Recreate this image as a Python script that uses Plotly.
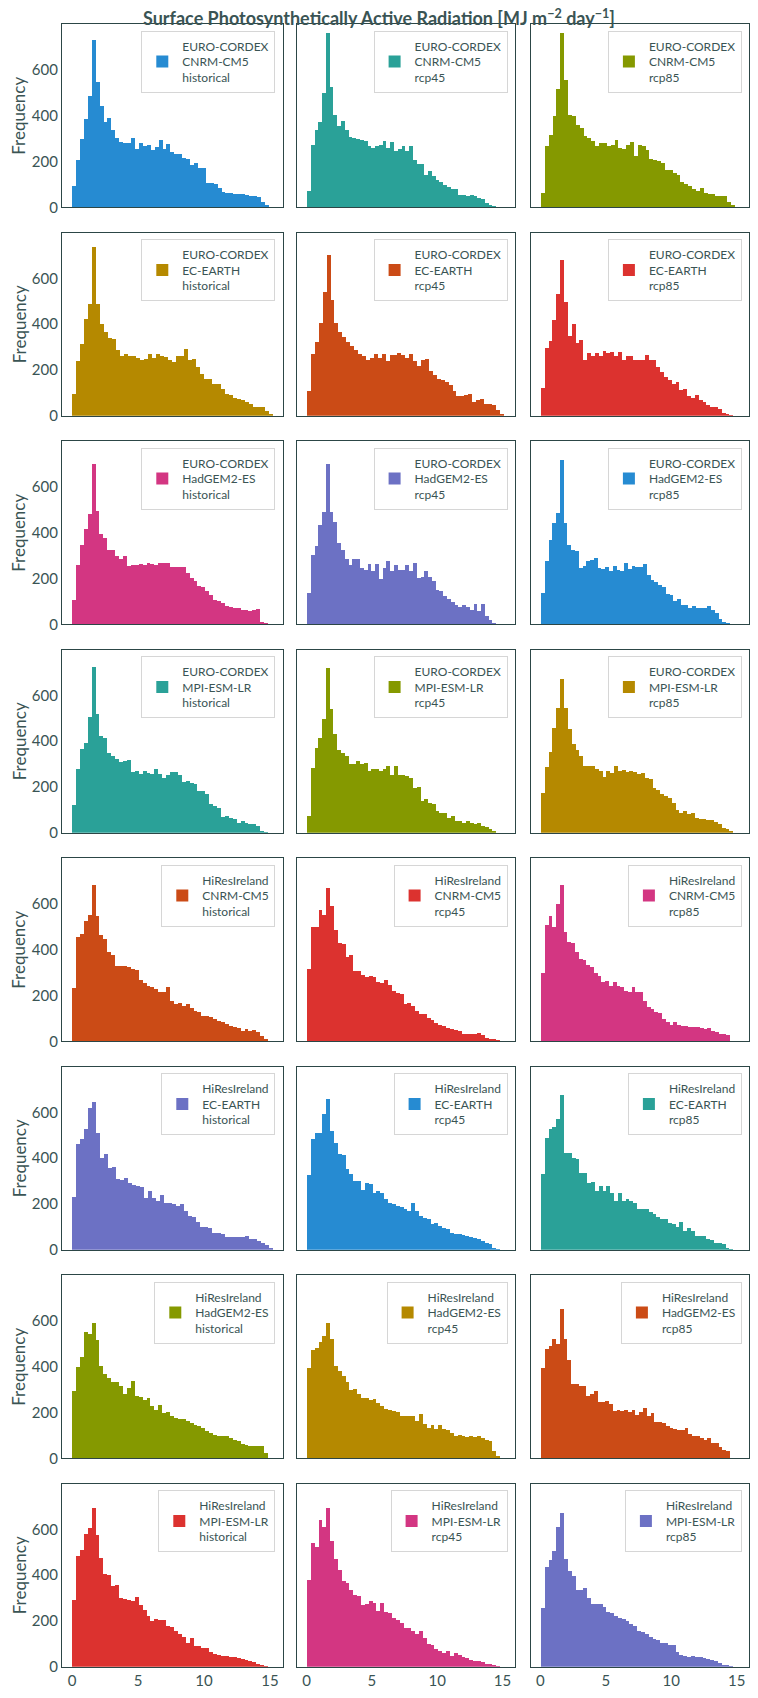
import plotly.graph_objects as go

# ---------------- data ----------------
SOURCES = ["EURO-CORDEX", "HiResIreland"]
MODELS = ["CNRM-CM5", "EC-EARTH", "HadGEM2-ES", "MPI-ESM-LR"]
EXPERIMENTS = ["historical", "rcp45", "rcp85"]
PALETTE = ["#268bd2", "#2aa198", "#859900", "#b58900",
           "#cb4b16", "#dc322f", "#d33682", "#6c71c4"]
X_TICKS = [0, 5, 10, 15]
Y_TICKS = [0, 200, 400, 600]
N_BINS = 50

# upper edge of the data range of each panel (histogram runs from 0 to this value)
XMAX = [14.9, 14.5, 14.8, 15.2, 15.07, 14.7, 14.85, 14.5, 14.45, 14.85, 14.5, 14.7,
        14.85, 14.8, 14.45, 15.2, 14.8, 14.7, 14.85, 14.8, 14.45, 14.85, 14.8, 14.7]

# bin counts (50 bins per panel), row by row
ec_cnrm_hist = [90,205,295,385,485,730,545,440,370,390,335,300,285,280,280,300,255,280,268,272,
                250,262,292,255,275,240,232,232,215,210,185,190,172,172,105,105,100,85,65,62,
                60,57,55,55,52,50,48,44,20,6]
ec_cnrm_45 = [68,272,338,370,498,760,524,403,352,374,335,306,300,297,294,287,265,259,265,271,
              287,258,282,243,255,265,243,265,207,189,189,141,156,134,116,108,98,87,79,79,
              54,52,50,52,47,39,35,17,8,3]
ec_cnrm_85 = [61,268,316,396,515,761,556,403,396,360,345,312,301,290,265,280,280,265,270,294,
              258,253,272,282,221,272,265,250,210,207,200,192,163,160,148,141,108,100,93,80,
              68,83,60,58,57,50,47,47,20,8]
ec_ece_hist = [98,239,313,425,488,737,488,403,367,341,338,290,262,272,262,262,253,243,247,272,
               253,272,262,258,243,236,262,262,291,243,247,214,185,160,160,141,141,119,98,90,
               79,73,68,61,54,41,41,39,20,6]
ec_ece_45 = [110,272,323,408,541,701,505,406,367,345,323,306,287,272,262,243,253,272,253,272,
             239,268,265,275,268,253,272,239,219,243,247,195,180,160,156,148,134,108,86,87,
             93,98,61,68,73,54,54,47,25,8]
ec_ece_85 = [124,297,326,418,534,680,498,350,403,320,330,243,275,262,275,262,282,277,280,262,
             280,243,262,262,243,243,243,265,243,243,215,192,170,156,141,148,112,119,87,79,
             90,68,61,47,39,39,29,12,7,3]
ec_had_hist = [106,259,346,416,482,700,495,393,376,325,325,295,285,298,252,259,256,262,256,266,
               262,259,268,268,268,247,247,247,247,223,201,186,164,160,143,128,106,99,92,77,
               73,70,70,63,63,55,63,67,9,4]
ec_had_45 = [135,303,340,434,489,700,489,445,353,325,285,259,285,285,245,237,262,233,262,198,
             245,277,233,256,237,237,256,233,266,201,204,233,204,186,150,143,121,111,96,84,
             73,82,73,63,87,55,87,33,19,4]
ec_had_85 = [135,277,368,440,485,718,440,345,325,320,245,252,275,280,290,245,240,247,233,252,
             235,233,266,238,255,250,247,262,215,190,182,170,160,133,128,100,107,82,85,72,
             78,70,70,72,78,60,48,20,8,3]
ec_mpi_hist = [121,278,365,394,507,725,518,424,416,351,336,322,311,314,317,268,271,256,271,261,
               256,278,256,242,253,268,268,253,224,227,220,213,183,183,169,128,118,111,70,74,
               67,60,45,52,45,38,38,31,9,3]
ec_mpi_45 = [74,282,370,416,496,719,540,431,361,351,336,300,300,314,300,307,271,278,278,271,
             278,293,253,293,253,253,249,242,198,201,140,147,132,125,96,89,89,67,74,52,
             52,45,52,45,38,45,31,26,16,6]
ec_mpi_85 = [173,290,355,460,547,671,547,453,387,361,336,293,293,293,278,271,245,271,264,293,
             271,274,268,271,268,256,264,242,234,195,186,169,162,154,132,99,89,96,82,89,
             67,60,60,55,55,50,38,23,16,6]
hr_cnrm_hist = [230,453,467,525,550,681,545,462,445,390,376,326,326,326,322,314,311,268,253,242,
                234,227,215,213,234,176,162,166,154,162,143,132,125,108,111,103,96,89,82,74,
                64,60,55,45,52,45,50,38,23,6]
hr_cnrm_45 = [314,497,497,570,550,670,589,483,428,423,367,374,306,306,287,281,284,278,256,253,
              265,243,220,209,206,160,167,152,131,116,119,102,90,80,70,65,58,51,47,44,
              32,32,32,32,36,28,13,8,5,3]
hr_cnrm_85 = [297,507,545,497,600,681,475,434,428,387,359,355,332,322,297,285,259,264,240,259,
              240,236,220,213,236,213,213,176,147,140,125,122,96,84,70,82,70,64,64,60,
              60,60,55,52,55,45,38,31,31,25]
hr_ece_hist = [233,461,486,527,622,646,512,403,418,360,364,312,306,316,294,282,279,277,229,258,
               229,214,239,207,204,199,192,199,170,148,146,122,102,102,97,73,73,68,58,58,
               58,58,58,61,47,49,39,32,20,6]
hr_ece_45 = [326,486,510,510,592,658,520,469,418,414,352,331,301,301,262,294,287,250,258,248,
             221,207,199,192,189,177,170,207,170,148,141,134,112,116,105,97,90,73,68,68,
             64,61,58,54,47,39,32,25,10,3]
hr_ece_85 = [331,491,527,539,574,675,422,422,403,399,335,338,294,297,258,279,258,279,248,214,
             248,214,221,214,207,177,177,177,166,156,146,134,134,116,112,102,122,83,97,83,
             61,61,61,49,44,32,32,25,10,3]
hr_had_hist = [291,397,441,550,543,590,514,400,368,349,330,330,313,281,306,335,272,266,252,262,
               229,211,233,197,199,182,175,170,170,160,153,146,138,131,116,109,102,98,98,95,
               87,80,73,63,58,54,54,54,54,22]
hr_had_45 = [393,473,480,505,534,590,518,403,382,357,330,296,301,281,262,262,255,258,240,226,
             214,211,204,199,182,185,185,182,160,192,150,131,146,127,146,127,124,109,98,102,
             95,92,98,92,95,87,77,73,29,7]
hr_had_85 = [391,477,489,518,496,649,518,426,321,321,314,314,272,281,291,243,243,248,237,204,
             211,204,211,199,208,189,199,220,182,195,156,156,153,141,131,127,121,121,131,106,
             95,95,87,80,87,66,66,48,36,29]
hr_mpi_hist = [294,486,510,582,608,694,578,476,408,403,352,357,301,296,294,288,306,272,248,221,
               199,209,207,207,178,175,156,146,131,105,127,93,93,83,83,64,58,54,50,50,
               44,44,39,35,32,25,20,15,10,3]
hr_mpi_45 = [382,540,525,642,610,694,550,472,425,374,367,338,316,309,269,277,288,280,244,280,
             239,236,214,207,190,170,170,156,146,156,127,102,98,79,69,61,69,47,61,54,
             44,39,32,25,25,20,15,15,10,3]
hr_mpi_85 = [258,438,467,505,610,671,470,420,399,336,336,343,301,277,274,274,260,242,234,224,
             212,208,201,187,179,159,152,142,131,124,117,106,106,96,96,67,54,50,44,47,
             44,44,39,35,32,25,17,10,5,3]

COUNTS = [ec_cnrm_hist, ec_cnrm_45, ec_cnrm_85,
          ec_ece_hist, ec_ece_45, ec_ece_85,
          ec_had_hist, ec_had_45, ec_had_85,
          ec_mpi_hist, ec_mpi_45, ec_mpi_85,
          hr_cnrm_hist, hr_cnrm_45, hr_cnrm_85,
          hr_ece_hist, hr_ece_45, hr_ece_85,
          hr_had_hist, hr_had_45, hr_had_85,
          hr_mpi_hist, hr_mpi_45, hr_mpi_85]

TITLE = "Surface Photosynthetically Active Radiation [MJ m<sup>\u22122</sup> day<sup>\u22121</sup>]"

# ---------------- layout constants ----------------
W, H = 758, 1698
FONT = "Lato, 'Noto Sans', sans-serif"
TEXT = "#3a5454"
FRAME = "#2c4646"
COL_X = [(62.0, 282.7), (296.7, 515.0), (530.5, 749.3)]
ROW_TOP0, ROW_H, ROW_PITCH = 24.3, 183.0, 208.5

xmax_all = max(XMAX)
XR = [-0.05 * xmax_all, 1.05 * xmax_all]
YR = [0, 1.05 * max(max(c) for c in COUNTS)]

fig = go.Figure()
layout = {}
annotations = []
for i, counts in enumerate(COUNTS):
    r, c = divmod(i, 3)
    n = "" if i == 0 else str(i + 1)
    bw = XMAX[i] / len(counts)
    centers = [(k + 0.5) * bw for k in range(len(counts))]
    name = f"{SOURCES[r // 4]}<br>{MODELS[r % 4]}<br>{EXPERIMENTS[c]}"
    fig.add_trace(go.Bar(
        x=centers, y=counts, width=bw, name=name,
        marker=dict(color=PALETTE[i % 8], line=dict(width=0)),
        xaxis="x" + n, yaxis="y" + n, legend="legend" + n, showlegend=True,
    ))
    x0, x1 = COL_X[c]
    y0 = ROW_TOP0 + r * ROW_PITCH
    y1 = y0 + ROW_H
    layout["xaxis" + n] = dict(
        domain=[x0 / W, x1 / W], anchor="y" + n, range=XR,
        showgrid=False, zeroline=False, showline=True, mirror=True,
        linecolor=FRAME, linewidth=1.3, ticks="", tickmode="array", tickvals=X_TICKS,
        showticklabels=(r == 7), tickfont=dict(size=15, color=TEXT, family=FONT),
        automargin=False,
    )
    layout["yaxis" + n] = dict(
        domain=[1 - y1 / H, 1 - y0 / H], anchor="x" + n, range=YR,
        showgrid=False, zeroline=False, showline=True, mirror=True,
        linecolor=FRAME, linewidth=1.3, ticks="", tickmode="array", tickvals=Y_TICKS,
        showticklabels=(c == 0), tickfont=dict(size=15, color=TEXT, family=FONT),
        automargin=False,
    )
    layout["legend" + n] = dict(
        x=(x1 - 7.4) / W, y=1 - (y0 + 6.4) / H, xanchor="right", yanchor="top",
        xref="paper", yref="paper",
        bgcolor="rgba(255,255,255,0.85)", bordercolor="#d6d6d6", borderwidth=1,
        font=dict(size=12, color=TEXT, family=FONT),
    )
    if c == 0:
        annotations.append(dict(
            text="Frequency", x=19 / W, y=1 - (y0 + ROW_H / 2) / H,
            xref="paper", yref="paper", xanchor="center", yanchor="middle",
            textangle=-90, showarrow=False,
            font=dict(size=17, color=TEXT, family=FONT),
        ))

fig.update_layout(**layout)
fig.update_layout(
    template="none",
    width=W, height=H,
    margin=dict(l=0, r=0, t=0, b=0),
    paper_bgcolor="white", plot_bgcolor="white",
    bargap=0,
    annotations=annotations,
    title=dict(text="<b>" + TITLE + "</b>", x=379 / W, xanchor="center",
               y=1 - 19 / H, yanchor="middle", xref="container", yref="container",
               font=dict(size=18, color=TEXT, family=FONT)),
    font=dict(family=FONT, color=TEXT),
)

fig.write_html("out.html")
